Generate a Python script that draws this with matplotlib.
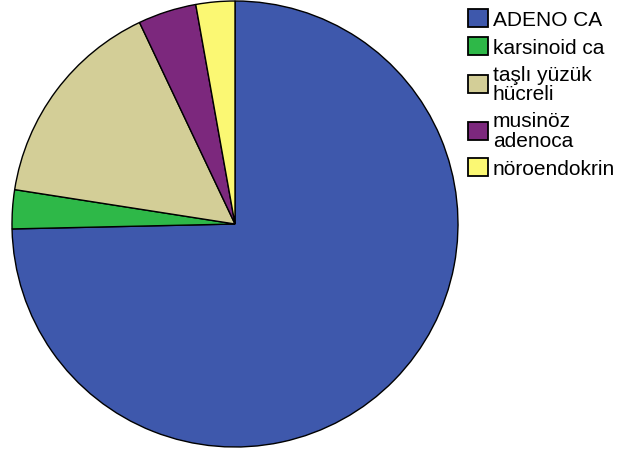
import matplotlib
matplotlib.use("Agg")
import matplotlib.pyplot as plt

# tumour types and case counts
labels = ["ADENO CA", "karsinoid ca", "taşlı yüzük\nhücreli", "musinöz\nadenoca", "nöroendokrin"]
counts = [53, 2, 11, 3, 2]
colors = ["#3e58ac", "#2eb848", "#d3ce97", "#7c287d", "#fbf873"]

W, H = 621, 452
fig = plt.figure(figsize=(W / 100, H / 100), dpi=100)

cx, cy, r = 235, 225, 223
ax = fig.add_axes([(cx - r) / W, (H - cy - r) / H, 2 * r / W, 2 * r / H])
wedges, _ = ax.pie(counts, colors=colors, startangle=90, counterclock=False,
                   wedgeprops=dict(edgecolor="black", linewidth=1.0))
ax.set_xlim(-1, 1)
ax.set_ylim(-1, 1)
ax.set_aspect("equal")
ax.axis("off")

leg = fig.legend(wedges, labels, loc="upper left", bbox_to_anchor=(468 / W, 1 - 10 / H),
                 frameon=False, borderpad=0, borderaxespad=0,
                 handlelength=0.95, handleheight=0.95, handletextpad=0.25,
                 labelspacing=0.37, prop=dict(family="Liberation Sans", size=15))
for t in leg.get_texts():
    t.set_linespacing(1.05)
for p in leg.get_patches():
    p.set_linewidth(1.3)

fig.savefig("out.png", dpi=100)
